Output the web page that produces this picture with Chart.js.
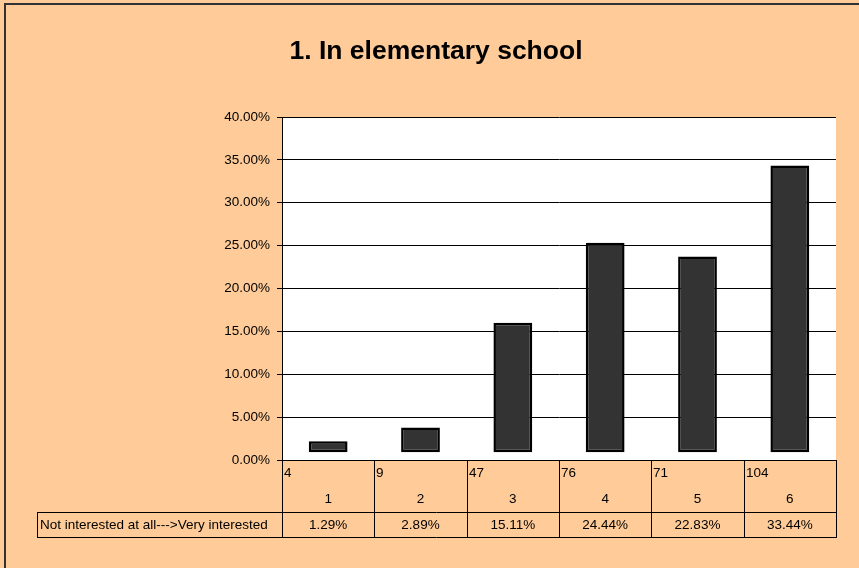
<!DOCTYPE html>
<html><head><meta charset="utf-8">
<script src="https://cdn.jsdelivr.net/npm/chart.js@4"></script>
<style>html,body{margin:0;padding:0;background:#FFCC99;}canvas{display:block}</style>
</head><body>
<canvas id="c" width="859" height="568"></canvas>
<script>
const chartTitle = '1. In elementary school';
const categories = ['1', '2', '3', '4', '5', '6'];
const counts = [4, 9, 47, 76, 71, 104];
const shares = [1.29, 2.89, 15.11, 24.44, 22.83, 33.44];
const rowLabel = 'Not interested at all--->Very interested';
const yMin = 0, yMax = 40, yStep = 5;
const barLift = 0.9; // the reference draws every bar raised slightly above 0%

const FONT = '"Liberation Sans", Arial, sans-serif';

const tablePlugin = {
  id: 'excelLook',
  beforeDraw(chart) {
    const ctx = chart.ctx, a = chart.chartArea;
    ctx.save();
    ctx.fillStyle = '#FFCC99';
    ctx.fillRect(0, 0, chart.width, chart.height);
    ctx.fillStyle = '#FFFFFF';
    ctx.fillRect(a.left, a.top, a.right - a.left, a.bottom - a.top);
    ctx.restore();
  },
  afterDraw(chart) {
    const ctx = chart.ctx, a = chart.chartArea, xs = chart.scales.x;
    const r0 = a.bottom, r1 = 512, r2 = 537, labelLeft = 37;
    ctx.save();
    ctx.strokeStyle = '#000';
    ctx.lineWidth = 1;
    const line = (x1, y1, x2, y2) => { ctx.beginPath(); ctx.moveTo(x1, y1); ctx.lineTo(x2, y2); ctx.stroke(); };
    const half = (xs.getPixelForValue(1) - xs.getPixelForValue(0)) / 2;
    line(a.left, r0 + 0.5, a.right, r0 + 0.5);
    line(labelLeft, r1 + 0.5, a.right, r1 + 0.5);
    line(labelLeft, r2 + 0.5, a.right, r2 + 0.5);
    line(labelLeft + 0.5, r1, labelLeft + 0.5, r2);
    for (let i = 0; i <= categories.length; i++) {
      const x = Math.round(i < categories.length ? xs.getPixelForValue(i) - half : xs.getPixelForValue(i - 1) + half) + 0.5;
      line(x, r0, x, r2 + 1);
    }
    ctx.fillStyle = '#000';
    ctx.font = '13.5px ' + FONT;
    ctx.textBaseline = 'middle';
    categories.forEach((c, i) => {
      const cx = xs.getPixelForValue(i);
      ctx.textAlign = 'left';
      ctx.fillText(String(counts[i]), Math.round(cx - half) + 2, 473);
      ctx.textAlign = 'center';
      ctx.fillText(c, cx, 499);
      ctx.fillText(shares[i].toFixed(2) + '%', cx, 525);
    });
    ctx.textAlign = 'left';
    ctx.fillText(rowLabel, labelLeft + 3, 525);
    // title
    ctx.font = 'bold 26.5px ' + FONT;
    ctx.textAlign = 'center';
    ctx.textBaseline = 'alphabetic';
    ctx.fillText(chartTitle, 436, 59);
    // outer chart border
    ctx.strokeStyle = '#333';
    ctx.lineWidth = 2;
    ctx.strokeRect(5, 4, 1000, 1000);
    ctx.restore();
  }
};

new Chart(document.getElementById('c'), {
  type: 'bar',
  data: {
    labels: categories,
    datasets: [{
      data: shares.map(v => [barLift, v + barLift]),
      backgroundColor: '#333333',
      borderColor: '#000000',
      borderWidth: 2.5,
      borderSkipped: false,
      barPercentage: 0.42,
      categoryPercentage: 1
    }]
  },
  options: {
    responsive: false,
    animation: false,
    devicePixelRatio: 1,
    layout: { padding: { top: 117, right: 23, left: 0, bottom: 0 } },
    plugins: { legend: { display: false }, tooltip: { enabled: false }, title: { display: false } },
    scales: {
      x: {
        type: 'category',
        grid: { display: false },
        border: { display: false },
        ticks: { display: false },
        afterFit: s => { s.height = 108; }
      },
      y: {
        min: yMin, max: yMax,
        ticks: {
          stepSize: yStep,
          color: '#000',
          padding: 7,
          font: { family: FONT, size: 13.5 },
          callback: v => Number(v).toFixed(2) + '%'
        },
        grid: { color: '#000', lineWidth: 1, tickLength: 5, drawTicks: true },
        border: { color: '#000', width: 1 },
        afterFit: s => { s.width = 282; }
      }
    }
  },
  plugins: [tablePlugin]
});
</script>
</body></html>
